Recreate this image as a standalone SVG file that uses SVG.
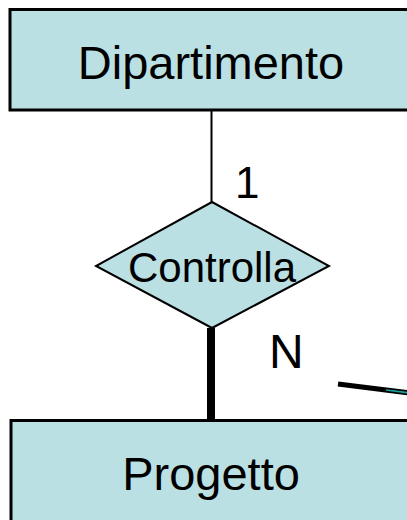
<svg xmlns="http://www.w3.org/2000/svg" width="407" height="520" viewBox="0 0 407 520">
  <style>
    .entity { fill: #BBE0E3; stroke: #000; stroke-width: 3; }
    .rel { fill: #BBE0E3; stroke: #000; stroke-width: 2; }
    .label { font-family: "Liberation Sans", Arial, sans-serif; fill: #000; }
    .link { stroke: #000; fill: none; }
  </style>
  <rect width="407" height="520" fill="#fff"/>

  <!-- connectors -->
  <g id="connectors">
    <line class="link" x1="211.5" y1="110" x2="211.5" y2="203" stroke-width="2"/>
    <line class="link" x1="211" y1="328" x2="211" y2="421" stroke-width="8"/>
    <line class="link" x1="338" y1="384" x2="410" y2="393" stroke-width="5"/>
    <line x1="386" y1="390" x2="410" y2="393" stroke="#1aa3a0" stroke-width="1.5"/>
    <text class="label" x="235" y="198" font-size="44">1</text>
    <text class="label" x="269" y="368" font-size="48">N</text>
  </g>

  <!-- entity: Dipartimento -->
  <g id="dipartimento">
    <rect class="entity" x="10" y="9.5" width="420" height="100.5"/>
    <text class="label" x="211" y="79" font-size="47" text-anchor="middle">Dipartimento</text>
  </g>

  <!-- relationship: Controlla -->
  <g id="controlla">
    <polygon class="rel" points="212,202 329,266 212,328 96,266"/>
    <text class="label" x="212" y="282" font-size="42" text-anchor="middle">Controlla</text>
  </g>

  <!-- entity: Progetto -->
  <g id="progetto">
    <rect class="entity" x="11" y="420.5" width="420" height="120"/>
    <text class="label" x="211" y="490" font-size="47" text-anchor="middle">Progetto</text>
  </g>
</svg>
